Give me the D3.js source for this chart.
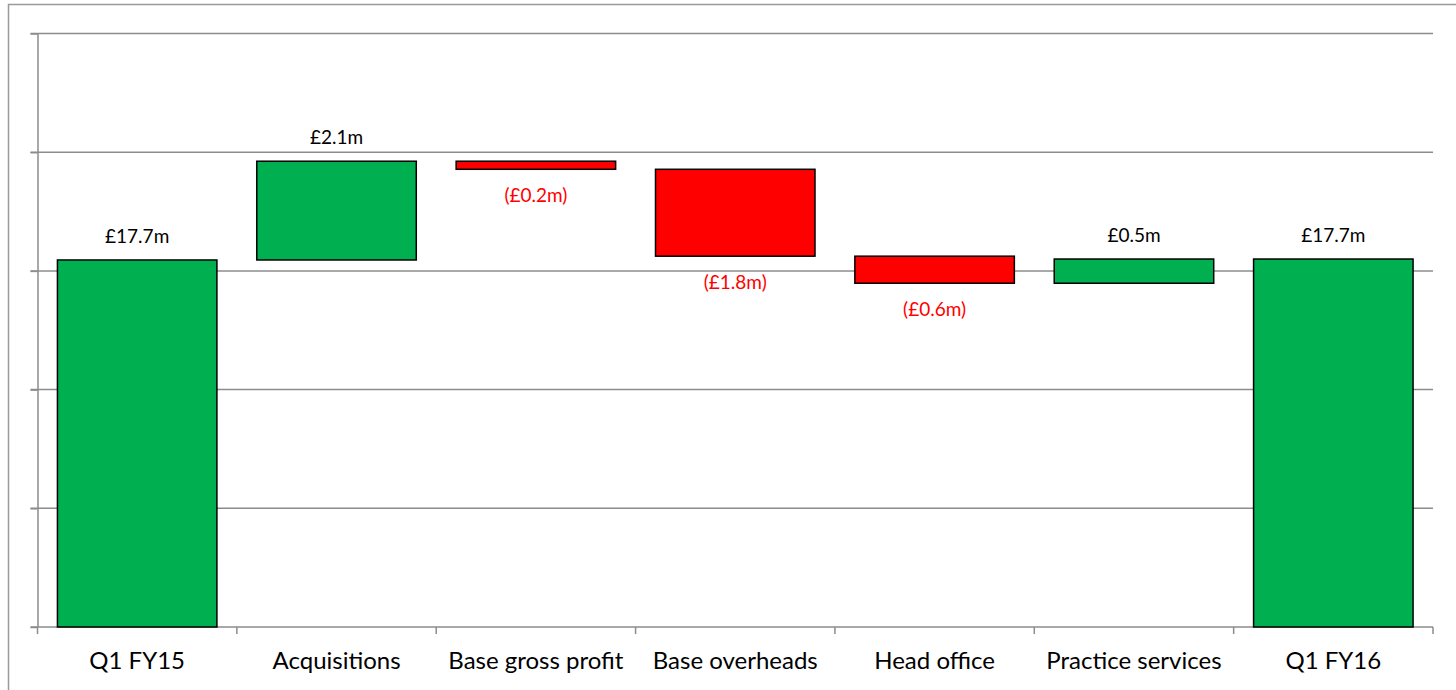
<!DOCTYPE html>
<html>
<head>
<meta charset="utf-8">
<script src="https://cdn.jsdelivr.net/npm/d3@7"></script>
<style>
body { margin: 0; background: #fff; }
svg { display: block; font-family: Lato, "Open Sans", sans-serif; }
.grid line { stroke: #8c8c8c; stroke-width: 1.5; }
.axis path, .axis line { stroke: #8c8c8c; stroke-width: 1.5; }
</style>
</head>
<body>
<svg id="chart" width="1456" height="690"></svg>
<script>
// waterfall data (£m), bar sizes, labels as printed
var categories = ["Q1 FY15", "Acquisitions", "Base gross profit", "Base overheads", "Head office", "Practice services", "Q1 FY16"];
var changes = [17.73, 2.08, -0.17, -1.83, -0.57, 0.51, 17.75];
var isTotal = [true, false, false, false, false, false, true];
var valueLabels = ["£17.7m", "£2.1m", "(£0.2m)", "(£1.8m)", "(£0.6m)", "£0.5m", "£17.7m"];
var yTicks = [10, 12.5, 15, 17.5, 20, 22.5];

var svg = d3.select("#chart");
var plotLeft = 37.5, plotRight = 1433, plotTop = 33.5, plotBottom = 627;

// outer frame
svg.append("path")
  .attr("d", "M8.5,690 V4.5 H1456")
  .attr("fill", "none")
  .attr("stroke", "#9a9a9a")
  .attr("stroke-width", 1.5);

var x = d3.scaleBand()
  .domain(categories)
  .range([plotLeft, plotRight])
  .paddingInner(0.2)
  .paddingOuter(0.1);

var y = d3.scaleLinear()
  .domain([10, 22.5])
  .range([plotBottom, plotTop]);

// running totals
var bars = [];
var run = 0;
changes.forEach(function(v, i) {
  var b = {};
  if (isTotal[i]) { b.y0 = y.domain()[0]; b.y1 = v; run = v; }
  else { b.y0 = run; b.y1 = run + v; run = run + v; }
  b.cat = categories[i];
  b.v = v;
  b.label = valueLabels[i];
  bars.push(b);
});

// gridlines
svg.append("g")
  .attr("class", "grid")
  .selectAll("line")
  .data(yTicks.slice(1))
  .enter().append("line")
  .attr("x1", plotLeft - 7)
  .attr("x2", plotRight)
  .attr("y1", function(d) { return y(d); })
  .attr("y2", function(d) { return y(d); });

// left axis, no labels
svg.append("g")
  .attr("class", "axis")
  .attr("transform", "translate(" + plotLeft + ",0)")
  .call(d3.axisLeft(y).tickValues(yTicks).tickSize(7).tickSizeOuter(0).tickFormat(""));

// bottom axis with ticks between categories
var xAxisG = svg.append("g").attr("class", "axis");
xAxisG.append("line")
  .attr("x1", plotLeft - 7).attr("x2", plotRight)
  .attr("y1", plotBottom).attr("y2", plotBottom);
xAxisG.selectAll(".tk")
  .data(d3.range(categories.length + 1))
  .enter().append("line")
  .attr("class", "tk")
  .attr("x1", function(i) { return plotLeft + i * x.step(); })
  .attr("x2", function(i) { return plotLeft + i * x.step(); })
  .attr("y1", plotBottom).attr("y2", plotBottom + 7);

// bars
svg.append("g")
  .selectAll("rect")
  .data(bars)
  .enter().append("rect")
  .attr("x", function(d) { return x(d.cat); })
  .attr("width", x.bandwidth())
  .attr("y", function(d) { return y(Math.max(d.y0, d.y1)); })
  .attr("height", function(d) { return Math.abs(y(d.y0) - y(d.y1)); })
  .attr("fill", function(d) { return d.v < 0 ? "#ff0000" : "#00b050"; })
  .attr("stroke", "#000")
  .attr("stroke-width", 1.5);

// value labels
svg.append("g")
  .selectAll("text")
  .data(bars)
  .enter().append("text")
  .attr("x", function(d) { return x(d.cat) + x.bandwidth() / 2; })
  .attr("y", function(d) {
    return d.v < 0 ? y(Math.min(d.y0, d.y1)) + 33 : y(Math.max(d.y0, d.y1)) - 17;
  })
  .attr("text-anchor", "middle")
  .attr("font-size", 19)
  .attr("fill", function(d) { return d.v < 0 ? "#ff0000" : "#000"; })
  .text(function(d) { return d.label; });

// category labels
svg.append("g")
  .selectAll("text")
  .data(categories)
  .enter().append("text")
  .attr("x", function(d) { return x(d) + x.bandwidth() / 2; })
  .attr("y", 669)
  .attr("text-anchor", "middle")
  .attr("font-size", 24)
  .attr("fill", "#000")
  .text(function(d) { return d; });
</script>
</body>
</html>
